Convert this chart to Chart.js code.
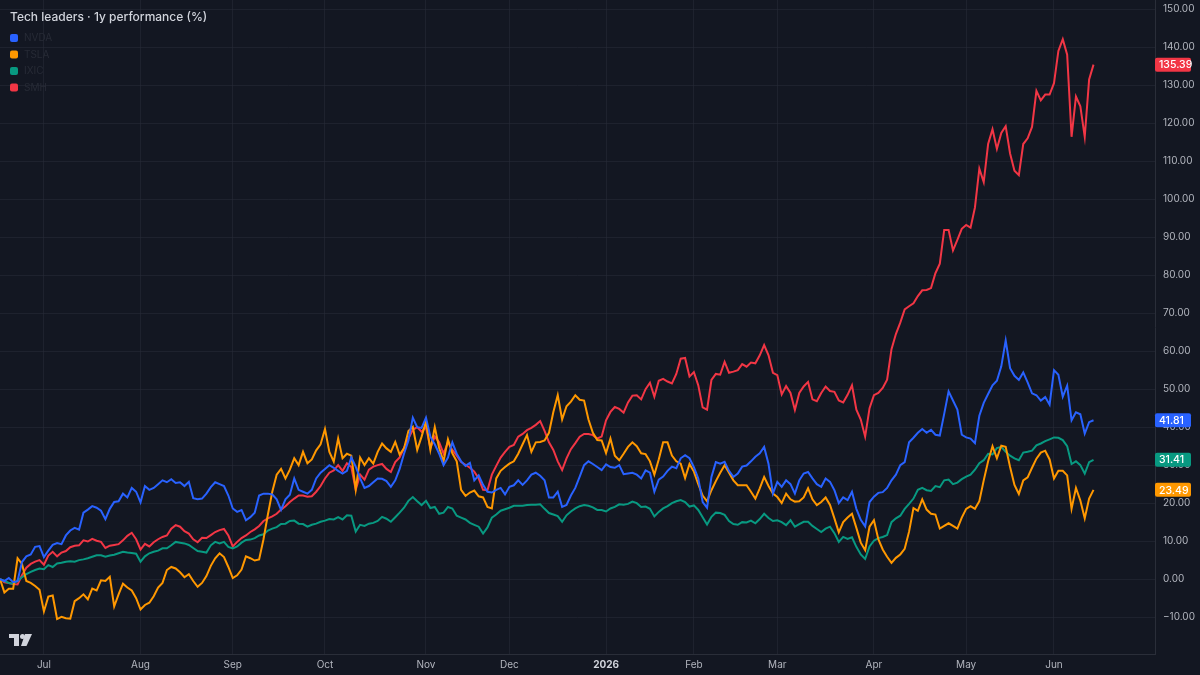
<!DOCTYPE html>
<html><head><meta charset="utf-8">
<script src="https://cdn.jsdelivr.net/npm/chart.js@4.4.1/dist/chart.umd.min.js"></script>
<style>html,body{margin:0;padding:0;background:#131722;overflow:hidden}#wrap{width:1200px;height:675px;position:relative}</style>
</head><body><div id="wrap"><canvas id="c"></canvas></div>
<script>
const chartTitle = 'Tech leaders · 1y performance (%)';
const seriesNames = ['NVDA', 'TSLA', 'IXIC', 'SMH'];
const seriesColors = ['#2962FF', '#FF9800', '#089981', '#F23645'];

const nvda = [0,-0.5,0.3,-0.8,-0.5,4.5,6.0,6.5,8.5,8.7,
5.8,7.5,9.0,9.5,9.2,11.5,12.8,13.5,13.0,17.5,
18.3,19.2,18.8,18.0,15.8,18.5,20.3,20.5,22.5,21.5,
24.0,23.0,20.2,24.5,23.5,24.0,25.0,26.0,25.5,26.3,
25.3,25.5,24.5,25.6,21.3,21.0,21.2,22.5,24.2,25.5,
25.0,24.5,22.0,18.6,17.7,18.2,15.5,16.3,17.5,22.0,
22.5,22.5,22.3,21.0,18.2,21.0,22.2,26.5,23.5,23.0,
22.5,23.5,26.5,28.0,29.0,30.0,29.3,28.5,27.8,28.5,
32.0,29.6,26.5,24.0,24.5,25.5,26.5,26.4,25.8,24.3,
26.0,29.0,33.0,36.5,42.5,40.0,39.8,42.5,37.5,35.5,
33.0,30.0,32.0,36.0,33.0,31.0,29.8,30.6,26.0,27.3,
24.8,23.0,22.8,23.5,24.0,22.3,24.3,24.7,26.0,24.8,
26.0,27.5,28.0,27.2,26.0,21.5,21.5,23.0,19.0,19.5,
22.0,24.0,27.0,30.0,31.0,30.3,29.5,28.7,30.2,29.5,
29.3,30.0,27.6,27.8,28.0,27.5,26.5,28.6,28.0,23.0,
26.2,27.0,28.5,29.6,29.2,31.8,32.6,31.8,29.5,26.5,
20.3,18.8,26.9,30.8,30.4,30.9,28.5,26.9,27.8,29.6,
29.9,31.0,32.2,33.1,34.8,30.3,22.5,25.6,24.3,26.0,
25.0,22.5,26.0,27.8,28.2,26.5,25.0,24.3,26.5,25.6,
23.4,20.0,21.5,20.8,23.0,18.5,15.6,13.9,20.3,21.7,
22.7,22.9,24.0,26.0,27.5,30.0,30.8,36.0,37.2,38.5,
39.5,38.5,39.3,38.0,37.8,43.5,49.4,47.0,44.6,38.0,
37.3,37.0,35.8,43.0,46.4,48.7,51.0,52.2,56.0,62.8,
55.5,53.5,52.4,54.4,51.8,48.9,48.4,47.0,47.9,45.9,
55.0,53.8,48.0,50.9,41.8,43.9,43.4,38.3,41.3,41.81];

const tsla = [0,-3.5,-2.5,-2.5,5.5,4.0,-0.5,-1.0,-1.8,-2.8,
-8.5,-4.6,-4.3,-10.5,-9.9,-10.3,-10.4,-5.8,-5.0,-4.0,
-5.3,-2.5,-3.0,-0.3,-0.5,0.6,-7.2,-4.0,-1.2,-2.2,
-3.0,-5.0,-8.0,-6.8,-6.2,-4.5,-2.2,-1.0,2.4,3.2,
2.8,1.8,0.5,1.3,-0.5,-2.0,-1.0,0.8,3.5,5.5,
6.8,5.8,3.2,0.3,1.0,2.5,6.0,5.5,4.9,5.2,
10.5,17.0,23.0,27.5,29.0,26.5,28.8,31.8,30.0,33.5,
30.5,31.5,33.9,35.5,39.5,33.5,30.9,37.0,31.8,33.0,
32.5,23.6,32.0,30.0,31.8,30.4,33.5,35.7,34.4,33.5,
36.1,32.8,34.4,39.0,40.1,34.0,37.5,41.5,34.0,40.0,
34.5,31.0,36.8,33.1,31.0,23.5,21.9,22.8,23.3,21.8,
21.5,19.0,18.6,26.5,28.5,29.5,30.4,31.0,33.0,35.5,
37.9,33.5,36.0,36.1,36.5,38.5,44.0,48.4,42.0,45.5,
46.7,48.4,47.2,47.0,42.0,38.5,36.6,36.5,33.2,37.0,
32.5,31.3,33.0,34.8,36.0,35.0,33.1,32.9,31.0,27.5,
31.5,36.0,36.0,32.5,31.0,30.4,26.6,30.3,28.3,25.0,
22.0,20.5,23.4,25.8,28.0,30.0,28.0,26.0,24.7,24.7,
24.7,23.0,21.2,23.9,26.9,24.5,22.5,21.6,20.0,22.5,
21.0,20.4,20.5,21.5,23.9,21.0,19.5,20.3,21.5,19.5,
16.0,12.3,15.0,16.2,17.2,13.5,9.6,7.6,13.8,15.5,
10.5,7.8,5.9,4.3,5.6,6.5,8.0,12.5,18.7,18.0,
21.0,18.3,17.2,17.0,13.3,14.0,14.7,14.0,13.3,16.2,
18.5,19.2,18.5,20.5,26.0,31.0,35.0,31.8,35.1,34.8,
29.5,24.8,22.4,26.0,26.8,29.3,31.7,33.3,33.8,31.5,
26.5,28.5,28.5,27.3,18.5,24.0,20.7,16.0,21.2,23.49];

const ixic = [0,-0.5,-1.0,-1.2,-0.5,0.5,1.3,1.9,2.4,2.8,
2.6,3.7,3.2,4.1,4.3,4.6,4.7,4.6,5.0,5.2,
5.5,5.9,6.3,6.3,5.9,6.2,6.4,6.8,7.2,7.0,
6.9,6.7,4.6,6.0,6.8,7.2,7.5,8.1,8.1,8.9,
9.8,9.6,9.4,9.0,8.2,7.4,7.2,7.0,8.9,9.8,
9.4,9.8,8.5,8.1,8.6,9.6,10.3,10.4,10.8,11.5,
11.8,12.8,13.3,13.7,14.5,14.6,15.3,15.4,14.6,14.5,
13.8,14.3,14.6,15.1,15.4,15.8,15.7,16.3,15.7,16.8,
16.7,12.5,14.3,14.0,14.6,14.8,15.3,16.4,15.9,15.1,
16.3,17.5,18.8,20.6,21.6,20.5,19.5,20.6,18.7,19.0,
17.2,17.5,19.0,18.6,16.7,16.2,15.7,14.8,14.3,13.8,
12.0,13.6,16.2,17.0,18.0,18.4,18.8,19.3,19.3,19.3,
19.5,19.6,19.6,19.7,18.5,17.4,17.0,16.6,15.1,16.8,
17.8,18.6,19.2,19.5,19.3,18.9,18.2,18.2,17.8,18.6,
19.0,19.7,19.6,19.8,20.4,20.0,19.0,19.1,18.5,16.5,
17.7,18.6,19.2,20.0,20.5,20.8,20.3,19.1,19.4,18.2,
16.3,14.4,16.4,17.5,17.4,16.9,15.3,14.5,14.3,15.0,
14.9,15.4,14.7,15.8,17.2,16.1,15.3,15.5,15.0,14.2,
15.5,13.8,14.5,15.1,15.1,14.0,13.2,12.4,13.3,13.8,
12.1,9.8,11.1,10.6,11.0,8.5,6.5,5.3,8.6,10.1,
10.8,11.1,11.6,15.0,16.0,16.7,18.5,19.8,21.2,23.5,
24.0,23.4,23.2,24.5,24.2,26.0,26.2,25.0,25.4,26.3,
27.0,27.5,28.8,30.5,31.3,33.0,32.8,34.5,34.8,33.5,
32.5,31.8,31.3,33.3,33.5,33.8,35.2,35.7,36.3,36.8,
37.3,37.2,36.6,35.0,30.3,31.0,30.0,27.8,30.8,31.41];

const smh = [0,-0.8,-1.0,-1.3,-1.4,1.0,3.0,4.0,4.6,5.0,
3.8,6.2,7.2,6.0,7.0,7.4,8.4,8.8,8.9,10.2,
9.9,10.6,10.1,9.8,8.2,8.8,9.0,9.2,10.2,11.4,
12.2,10.5,7.8,9.3,8.6,9.7,10.5,11.1,11.5,13.3,
14.2,13.8,12.6,12.0,10.5,9.7,10.9,10.8,11.6,12.4,
12.9,13.2,11.5,8.6,9.8,10.8,11.5,12.4,13.1,14.0,
15.3,16.0,16.5,17.2,18.3,19.2,20.3,21.2,22.0,22.0,
21.7,21.8,23.0,24.5,26.5,28.0,28.6,30.0,28.5,30.5,
29.5,23.5,27.5,26.2,28.8,29.6,30.0,30.3,29.0,28.2,
30.8,32.0,34.5,37.0,39.3,40.0,38.8,40.0,34.5,37.5,
36.0,33.0,36.0,34.0,32.5,30.8,30.1,29.3,28.3,26.5,
23.5,23.4,27.5,29.8,32.0,33.5,34.8,35.3,37.5,38.2,
39.2,39.8,40.6,41.6,39.0,36.0,34.0,31.0,28.7,31.8,
34.2,35.8,37.5,38.2,38.2,37.9,37.0,37.5,41.8,44.0,
45.3,44.8,43.8,46.5,48.3,48.4,47.3,50.0,51.7,48.0,
52.2,52.7,52.0,51.5,54.0,58.0,58.2,53.3,54.5,51.0,
45.2,44.6,52.4,54.0,53.8,57.2,54.3,54.6,55.0,56.6,
55.9,57.0,56.8,58.9,61.6,58.9,54.3,53.7,48.6,50.8,
49.0,44.5,49.0,50.7,51.9,47.3,46.8,49.0,50.7,49.5,
49.3,47.0,46.5,48.5,51.0,44.6,42.0,37.5,45.0,48.4,
49.0,50.3,52.5,60.5,64.5,67.5,71.0,71.8,72.6,74.5,
76.0,76.1,76.6,80.5,83.0,91.9,91.9,86.5,89.3,92.2,
93.2,92.5,97.8,108.0,104.5,114.5,118.4,113.2,117.4,119.2,
112.0,107.5,106.3,114.5,116.0,119.0,128.5,126.0,127.5,127.5,
130.5,139.0,142.1,138.0,116.4,127.0,124.4,116.4,131.5,135.39];

const monthTickLabels = ['Jul', 'Aug', 'Sep', 'Oct', 'Nov', 'Dec', '2026', 'Feb', 'Mar', 'Apr', 'May', 'Jun'];
const yTickValues = [-10, 0, 10, 20, 30, 40, 50, 60, 70, 80, 90, 100, 110, 120, 130, 140, 150];
const firstSession = '2025-06-16';
const marketHolidays = ['2025-06-19', '2025-07-04', '2025-09-01', '2025-11-27', '2025-12-25',
  '2026-01-01', '2026-01-19', '2026-02-16', '2026-04-03', '2026-05-25'];
const rightPadSessions = 14;

function buildSessions(n) {
  const out = [];
  const d = new Date(firstSession + 'T12:00:00Z');
  while (out.length < n) {
    const dow = d.getUTCDay();
    const iso = d.toISOString().slice(0, 10);
    if (dow !== 0 && dow !== 6 && !marketHolidays.includes(iso)) out.push(iso);
    d.setUTCDate(d.getUTCDate() + 1);
  }
  return out;
}
const sessions = buildSessions(nvda.length);
const labels = sessions.concat(Array.from({length: rightPadSessions}, (_, k) => 'pad' + k));
const monthStart = new Map();
{
  let k = 0;
  for (let i = 1; i < sessions.length; i++) {
    if (sessions[i].slice(0, 7) !== sessions[i - 1].slice(0, 7)) monthStart.set(i, monthTickLabels[k++]);
  }
}

const FONT = 'Inter, "Noto Sans", sans-serif';
Chart.defaults.font.family = FONT;

const overlay = {
  id: 'overlay',
  afterDraw(chart) {
    const ctx = chart.ctx;
    const ca = chart.chartArea;
    const ys = chart.scales.y;
    ctx.save();
    ctx.textBaseline = 'middle';
    ctx.textAlign = 'left';
    ctx.font = '500 12px ' + FONT;
    ctx.fillStyle = '#d1d4dc';
    ctx.fillText(chartTitle, 10, 17);
    chart.data.datasets.forEach((ds, i) => {
      const y = 38 + i * 16.5;
      ctx.fillStyle = ds.borderColor;
      ctx.beginPath();
      ctx.roundRect(10, y - 4, 8, 8, 2);
      ctx.fill();
      ctx.fillStyle = '#272b36';
      ctx.font = '10px ' + FONT;
      ctx.fillText(ds.label, 24, y);
    });
    chart.data.datasets.forEach(ds => {
      const v = ds.data[ds.data.length - 1];
      const y = ys.getPixelForValue(v);
      ctx.fillStyle = ds.borderColor;
      ctx.beginPath();
      ctx.roundRect(ca.right, y - 7, 36, 14, 2);
      ctx.fill();
      ctx.fillStyle = '#ffffff';
      ctx.font = '500 10.5px ' + FONT;
      ctx.fillText(v.toFixed(2), ca.right + 4, y + 0.5);
    });
    ctx.fillStyle = '#d1d4dc';
    ctx.fillRect(9, 634, 10, 4);
    ctx.fillRect(14, 634, 5, 12);
    ctx.beginPath(); ctx.arc(22.5, 636.5, 2.5, 0, Math.PI * 2); ctx.fill();
    ctx.beginPath();
    ctx.moveTo(25, 634); ctx.lineTo(32, 634); ctx.lineTo(26.5, 646); ctx.lineTo(21, 646);
    ctx.closePath(); ctx.fill();
    ctx.restore();
  }
};

new Chart(document.getElementById('c'), {
  type: 'line',
  data: {
    labels: labels,
    datasets: [nvda, tsla, ixic, smh].map((arr, i) => ({
      label: seriesNames[i],
      data: arr,
      borderColor: seriesColors[i],
      backgroundColor: seriesColors[i],
      borderWidth: 2,
      pointRadius: 0,
      tension: 0,
      fill: false
    }))
  },
  options: {
    responsive: true,
    maintainAspectRatio: false,
    animation: false,
    layout: { padding: 0 },
    plugins: { legend: { display: false }, tooltip: { enabled: false }, title: { display: false } },
    scales: {
      x: {
        type: 'category',
        offset: false,
        grid: { color: 'rgba(42,46,57,0.5)', drawTicks: false, lineWidth: 1 },
        border: { display: true, color: '#2a2e39' },
        afterBuildTicks: axis => { axis.ticks = axis.ticks.filter(t => monthStart.has(t.value)); },
        afterFit: s => { s.height = 21; s.paddingLeft = 0; s.paddingRight = 0; },
        ticks: {
          autoSkip: false, maxRotation: 0, minRotation: 0, padding: 5,
          color: ctx => (monthStart.get(ctx.tick && ctx.tick.value) === '2026' ? '#d1d4dc' : '#b2b5be'),
          font: ctx => ({ size: 10, weight: monthStart.get(ctx.tick && ctx.tick.value) === '2026' ? 'bold' : 'normal' }),
          callback: v => monthStart.get(v) || ''
        }
      },
      y: {
        position: 'right',
        min: -19.7,
        max: 152.4,
        grid: { color: 'rgba(42,46,57,0.5)', drawTicks: false, lineWidth: 1 },
        border: { display: true, color: '#2a2e39' },
        afterBuildTicks: axis => { axis.ticks = yTickValues.map(v => ({ value: v })); },
        afterFit: s => { s.width = 45; s.paddingTop = 0; s.paddingBottom = 0; },
        ticks: {
          padding: 8, color: '#b2b5be', font: { size: 10 },
          callback: v => (v < 0 ? '\u2212' : '') + Math.abs(v).toFixed(2)
        }
      }
    }
  },
  plugins: [overlay]
});
</script>
</body></html>
